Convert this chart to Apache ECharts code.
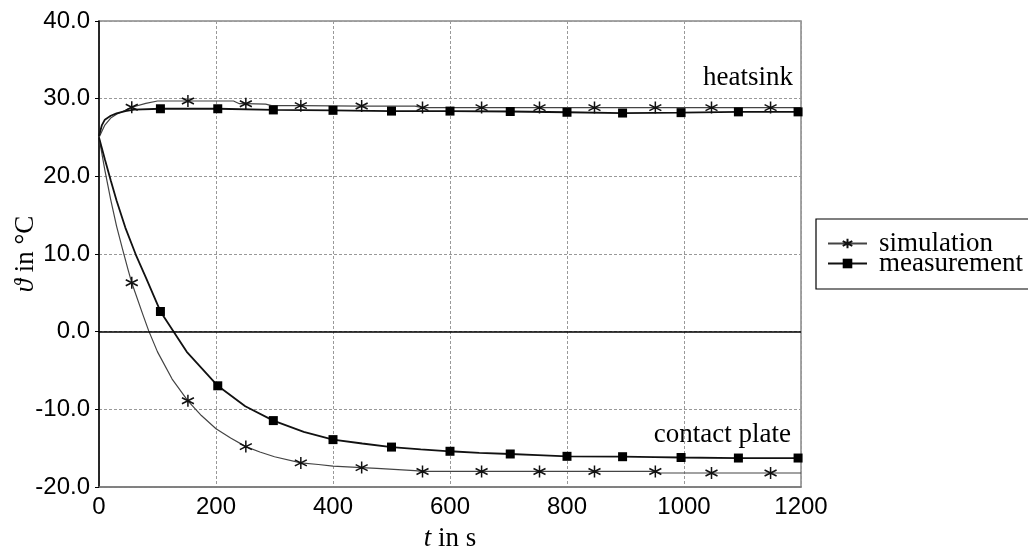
<!DOCTYPE html>
<html>
<head>
<meta charset="utf-8">
<script src="https://cdn.jsdelivr.net/npm/echarts@6/dist/echarts.min.js"></script>
<style>
html,body{margin:0;padding:0;background:#fff;}
#chart{width:1028px;height:550px;}
</style>
</head>
<body>
<div id="chart"></div>
<script>
// ---- data ----
const xTicks = [0, 200, 400, 600, 800, 1000, 1200];
const yTicks = [-20, -10, 0, 10, 20, 30, 40];

// heatsink, simulation
const simHeatT = [0,5,10,20,30,45,56,80,100,152,230,240,251,285,295,345,449,540,553,654,753,847,951,1047,1148,1200];
const simHeatV = [25.0,25.8,26.6,27.5,28.0,28.5,28.9,29.4,29.7,29.7,29.7,29.35,29.35,29.3,29.1,29.1,29.05,29.05,28.85,28.85,28.85,28.85,28.85,28.85,28.85,28.85];

// heatsink, measurement
const measHeatT = [0,5,10,20,30,45,60,105,203,298,400,500,600,703,800,895,995,1093,1195,1200];
const measHeatV = [25.2,26.6,27.3,27.8,28.1,28.4,28.6,28.7,28.7,28.55,28.5,28.4,28.4,28.35,28.25,28.15,28.2,28.3,28.3,28.3];

// contact plate, simulation
const simContT = [0,10,20,30,40,50,56,75,85,100,125,152,175,200,225,251,275,300,345,375,400,449,475,540,553,654,753,847,951,960,1047,1148,1200];
const simContV = [25.0,20.8,17.0,13.6,10.7,7.9,6.3,2.2,0.1,-2.6,-6.1,-8.9,-10.8,-12.5,-13.7,-14.8,-15.5,-16.1,-16.9,-17.1,-17.3,-17.5,-17.6,-17.9,-18.0,-18.0,-18.0,-18.0,-18.0,-18.2,-18.2,-18.2,-18.2];

// contact plate, measurement
const measContT = [0,10,20,30,45,63,80,105,150,203,250,298,350,400,450,500,550,600,650,703,750,800,895,950,995,1093,1195,1200];
const measContV = [25.0,22.2,19.5,16.9,13.4,9.9,7.0,2.6,-2.6,-6.97,-9.6,-11.45,-12.9,-13.9,-14.4,-14.86,-15.15,-15.4,-15.6,-15.75,-15.9,-16.05,-16.1,-16.15,-16.2,-16.27,-16.27,-16.27];

// times at which markers are drawn
const simMarkT = [56,152,251,345,449,553,654,753,847,951,1047,1148];
const measMarkT = [105,203,298,400,500,600,703,800,895,995,1093,1195];

const legendNames = ['simulation', 'measurement'];
const curveLabels = ['heatsink', 'contact plate'];

// ---- build ----
function pts(T, V, marks) {
  return T.map((t, i) => marks.indexOf(t) >= 0 ? [t, V[i]] : { value: [t, V[i]], symbol: 'none' });
}
const SERIF = '"Liberation Serif", "DejaVu Serif", serif';
const SANS = '"Liberation Sans", Arial, sans-serif';
const asterisk = 'path://M0,-10 L0,10 M-8.7,-5 L8.7,5 M-8.7,5 L8.7,-5';

function simSeries(T, V) {
  return {
    name: legendNames[0], type: 'line', data: pts(T, V, simMarkT),
    symbol: asterisk, symbolSize: 12, showAllSymbol: true,
    lineStyle: { color: '#444', width: 1.2 },
    itemStyle: { color: 'rgba(0,0,0,0)', borderColor: '#111', borderWidth: 1.5 },
    z: 3
  };
}
function measSeries(T, V) {
  return {
    name: legendNames[1], type: 'line', data: pts(T, V, measMarkT),
    symbol: 'rect', symbolSize: 9, showAllSymbol: true,
    lineStyle: { color: '#111', width: 1.8 },
    itemStyle: { color: '#000', borderColor: '#000', borderWidth: 0 },
    z: 4
  };
}

const series = [
  simSeries(simHeatT, simHeatV),
  measSeries(measHeatT, measHeatV),
  simSeries(simContT, simContV),
  measSeries(measContT, measContV)
];
series[0].markLine = {
  silent: true, symbol: 'none', animation: false,
  label: { show: false },
  lineStyle: { color: '#000', width: 1.5, type: 'solid' },
  data: [{ yAxis: 0 }]
};

const chart = echarts.init(document.getElementById('chart'), null, { renderer: 'canvas' });
chart.setOption({
  animation: false,
  backgroundColor: '#fff',
  grid: { left: 99, top: 21, right: 227, bottom: 63, containLabel: false, outerBoundsMode: 'none',
          show: true, borderColor: '#888', borderWidth: 1.5, backgroundColor: 'transparent' },
  legend: {
    data: legendNames, orient: 'vertical', left: 816, top: 219,
    itemWidth: 39, itemHeight: 12, itemGap: -7,
    padding: [11, 20, 12, 11],
    borderColor: '#000', borderWidth: 1.2, backgroundColor: '#fff',
    textStyle: { fontFamily: SERIF, fontSize: 27, color: '#000', padding: [0, 0, 0, 7] }
  },
  xAxis: {
    type: 'value', min: xTicks[0], max: xTicks[xTicks.length - 1], interval: 200,
    axisLine: { onZero: false, lineStyle: { color: '#777', width: 1.5 } },
    axisTick: { show: false },
    axisLabel: { fontFamily: SANS, fontSize: 24, color: '#000', margin: 8, formatter: v => String(v) },
    splitLine: { show: true, lineStyle: { color: '#999', width: 1, type: [3, 2] } },
    name: '{i|t} in s', nameLocation: 'middle', nameGap: 38, nameMoveOverlap: false,
    nameTextStyle: { fontFamily: SERIF, fontSize: 27, color: '#000',
      rich: { i: { fontFamily: SERIF, fontSize: 27, fontStyle: 'italic', color: '#000' } } }
  },
  yAxis: {
    type: 'value', min: yTicks[0], max: yTicks[yTicks.length - 1], interval: 10,
    axisLine: { show: true, onZero: false, lineStyle: { color: '#000', width: 1.5 } },
    axisTick: { show: true, length: 4, lineStyle: { color: '#000' } },
    axisLabel: { fontFamily: SANS, fontSize: 24, color: '#000', margin: 9, formatter: v => v.toFixed(1) },
    splitLine: { show: true, lineStyle: { color: '#999', width: 1, type: [3, 2] } },
    name: '{i|ϑ} in °C', nameLocation: 'middle', nameGap: 60, nameMoveOverlap: false,
    nameTextStyle: { fontFamily: SERIF, fontSize: 27, color: '#000',
      rich: { i: { fontFamily: SERIF, fontSize: 27, fontStyle: 'italic', color: '#000' } } }
  },
  graphic: [
    { type: 'text', right: 1028 - 793, top: 64, style: { text: curveLabels[0], font: '27px ' + SERIF, fill: '#000' } },
    { type: 'text', right: 1028 - 791, top: 421, style: { text: curveLabels[1], font: '27px ' + SERIF, fill: '#000' } }
  ],
  series: series
});
</script>
</body>
</html>
